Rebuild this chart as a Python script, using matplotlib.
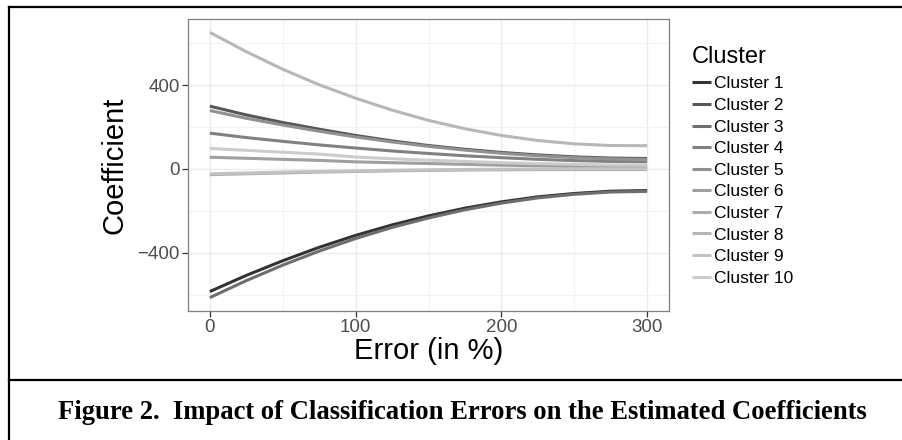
import matplotlib
matplotlib.use("Agg")
import matplotlib.pyplot as plt
from matplotlib.lines import Line2D

# x values: classification error (in %)
error_pct = [0, 25, 50, 75, 100, 125, 150, 175, 200, 225, 250, 275, 300]

# coefficient estimates
cluster_1 = [-585, -508, -438, -374, -317, -267, -224, -187, -157, -133, -117, -106, -103]
cluster_2 = [300, 258, 222, 190, 160, 134, 112, 94, 79, 67, 58, 52, 50]
cluster_3 = [-614, -533, -459, -392, -332, -279, -234, -195, -163, -138, -121, -110, -107]
cluster_4 = [171, 150, 132, 115, 100, 86, 74, 63, 54, 46, 40, 36, 34]
cluster_5 = [279, 242, 210, 180, 153, 129, 108, 90, 75, 63, 54, 48, 46]
cluster_6 = [56, 51, 46, 41, 34, 30, 26, 22, 18, 15, 12, 10, 9]
cluster_7 = [-27, -23, -19, -15, -12, -9, -7, -5, -4, -3, -3, -3, -3]
cluster_8 = [652, 560, 476, 402, 338, 281, 232, 192, 160, 136, 120, 112, 111]
cluster_9 = [-23, -19, -15, -12, -9, -6, -4, -2, -1, 0, 1, 1, 1]
cluster_10 = [98, 89, 80, 71, 57, 49, 42, 36, 30, 26, 22, 19, 18]

coefs = [cluster_1, cluster_2, cluster_3, cluster_4, cluster_5,
         cluster_6, cluster_7, cluster_8, cluster_9, cluster_10]
labels = ["Cluster " + str(i + 1) for i in range(10)]
greys = ["#333333", "#575757", "#6E6E6E", "#818181", "#919191",
         "#9F9F9F", "#ACACAC", "#B7B7B7", "#C2C2C2", "#CCCCCC"]

W, H = 902, 440
fig = plt.figure(figsize=(W / 100, H / 100), dpi=100)
plt.rcParams['font.family'] = ['Liberation Sans', 'DejaVu Sans']

ax = fig.add_axes([188 / W, 1 - 311 / H, (669 - 188) / W, (311 - 19) / H])

for i in range(10):
    ax.plot(error_pct, coefs[i], color=greys[i], lw=2.2, label=labels[i],
            solid_capstyle="butt", solid_joinstyle="round")

ax.set_xlim(-15, 315)
ax.set_ylim(-678, 716)
ax.set_xticks([0, 100, 200, 300])
ax.set_xticks([50, 150, 250], minor=True)
ax.set_yticks([-400, 0, 400])
ax.set_yticks([-600, -200, 200, 600], minor=True)

ax.grid(True, which="major", color="#EBEBEB", lw=1.0)
ax.grid(True, which="minor", color="#F2F2F2", lw=0.8)
ax.set_axisbelow(True)
for s in ax.spines.values():
    s.set_color("#7F7F7F")
    s.set_linewidth(0.9)
ax.tick_params(which="major", length=4, width=0.9, color="#333333",
               labelsize=13.5, labelcolor="#4D4D4D", pad=2)
ax.tick_params(which="minor", length=0)

fig.text(115 / W, 1 - 165.5 / H, "Coefficient", rotation=90,
         ha="center", va="center", fontsize=21)
fig.text(429 / W, 1 - 351 / H, "Error (in %)", ha="center", va="center",
         fontsize=21)

leg = ax.legend(loc="upper left", bbox_to_anchor=(692 / W, 1 - 46 / H),
                bbox_transform=fig.transFigure, frameon=False,
                title="Cluster", fontsize=12.5, title_fontsize=17,
                handlelength=1.1, handletextpad=0.18, labelspacing=0.37,
                borderaxespad=0, borderpad=0)
leg._legend_box.align = "left"
leg._legend_box.sep = 6

# page frame and caption
lw_frame = 1.6
fig.add_artist(Line2D([9 / W, 9 / W], [0, 1 - 7 / H], color="black",
                      lw=lw_frame, transform=fig.transFigure))
fig.add_artist(Line2D([9 / W, 1], [1 - 7 / H, 1 - 7 / H], color="black",
                      lw=lw_frame, transform=fig.transFigure))
fig.add_artist(Line2D([9 / W, 1], [1 - 380 / H, 1 - 380 / H], color="black",
                      lw=lw_frame, transform=fig.transFigure))

fig.text(462 / W, 1 - 412 / H,
         "Figure 2.  Impact of Classification Errors on the Estimated Coefficients",
         ha="center", va="center", fontsize=19.2, fontweight="bold",
         family="Liberation Serif")

fig.savefig("out.png", dpi=100)
